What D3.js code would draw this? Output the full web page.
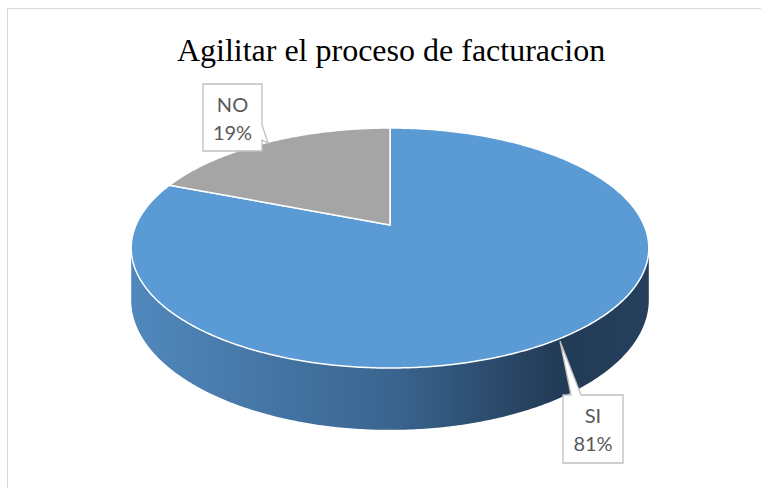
<!DOCTYPE html>
<html>
<head>
<meta charset="utf-8">
<script src="https://cdn.jsdelivr.net/npm/d3@7"></script>
<style>
  body { margin: 0; background: #fff; }
  svg { display: block; }
</style>
</head>
<body>
<svg id="chart" width="761" height="488"></svg>
<script>
var labels = ['SI', 'NO'];
var values = [81, 19];
var colors = ['#5b9bd5', '#a5a5a5'];
var title = 'Agilitar el proceso de facturacion';

var svg = d3.select('#chart');

// chart border
svg.append('rect')
    .attr('x', 7.5).attr('y', 8.5)
    .attr('width', 770).attr('height', 500)
    .attr('fill', '#fff')
    .attr('stroke', '#d9d9d9');

svg.append('text')
    .attr('x', 391).attr('y', 61)
    .attr('text-anchor', 'middle')
    .style('font', '32px "Liberation Serif", serif')
    .attr('fill', '#000')
    .text(title);

// simple perspective projection of a tilted disc
var cx = 390, cy = 225, A = 254, B = 115.6, a = 0.1917, H = 50;
function proj(theta, drop) {
    var X = Math.sin(theta), Y = Math.cos(theta);
    var w = 1 + a * Y;
    return [cx + A * X / w, cy - B * Y / w + (drop ? H / w : 0)];
}
function arcPts(t0, t1, drop) {
    var n = Math.max(2, Math.ceil(Math.abs(t1 - t0) / 0.01));
    return d3.range(n + 1).map(i => proj(t0 + (t1 - t0) * i / n, drop));
}
var line = d3.line();

// clockwise from 12 o'clock: SI first, NO ends back at the top
var pie = d3.pie().sort(null).startAngle(0).endAngle(2 * Math.PI);
var arcs = pie(values);

// side wall (front half only)
var tR = Math.acos(-a), tL = 2 * Math.PI - Math.acos(-a);
var defs = svg.append('defs');
var grad = defs.append('linearGradient').attr('id', 'side')
    .attr('gradientUnits', 'userSpaceOnUse')
    .attr('x1', 130).attr('x2', 650).attr('y1', 0).attr('y2', 0);
grad.append('stop').attr('offset', 0).attr('stop-color', '#5188bd');
grad.append('stop').attr('offset', 0.5).attr('stop-color', '#3a6590');
grad.append('stop').attr('offset', 0.82).attr('stop-color', '#223b56');
grad.append('stop').attr('offset', 1).attr('stop-color', '#25405d');

var sidePts = arcPts(tR, tL, false).concat(arcPts(tL, tR, true));
svg.append('path')
    .attr('d', line(sidePts) + 'Z')
    .attr('fill', 'url(#side)');

// top face slices
arcs.forEach(function (d, i) {
    var pts = [[cx, cy]].concat(arcPts(d.startAngle, d.endAngle, false));
    svg.append('path')
        .attr('d', line(pts) + 'Z')
        .attr('fill', colors[i])
        .attr('stroke', '#fff')
        .attr('stroke-width', 1.5)
        .attr('stroke-linejoin', 'round');
});

// callouts
var callouts = [
    { i: 0, box: [563, 395, 60, 68], tip: [560, 341], base: [[571, 395], [581, 395]] },
    { i: 1, box: [203, 84, 59, 67], tip: [268, 143], base: [[262, 125], [262, 140]] }
];
var g = svg.append('g');
callouts.forEach(function (c) {
    var b = c.box;
    var p = [[b[0], b[1]], [b[0] + b[2], b[1]], [b[0] + b[2], b[1] + b[3]], [b[0], b[1] + b[3]]];
    var pts;
    if (c.i === 0) {
        pts = [p[0], c.base[0], c.tip, c.base[1], p[1], p[2], p[3]];
    } else {
        pts = [p[0], p[1], c.base[0], c.tip, c.base[1], p[2], p[3]];
    }
    g.append('path')
        .attr('d', line(pts) + 'Z')
        .attr('fill', '#fff')
        .attr('stroke', '#bfbfbf')
        .attr('stroke-width', 1.3);
    var tx = b[0] + b[2] / 2;
    var t = g.append('text')
        .attr('text-anchor', 'middle')
        .attr('fill', '#595959')
        .style('font', '20px Lato, "Open Sans", sans-serif');
    t.append('tspan').attr('x', tx).attr('y', b[1] + 28).text(labels[c.i]);
    t.append('tspan').attr('x', tx).attr('y', b[1] + 56).text(values[c.i] + '%');
});
</script>
</body>
</html>
